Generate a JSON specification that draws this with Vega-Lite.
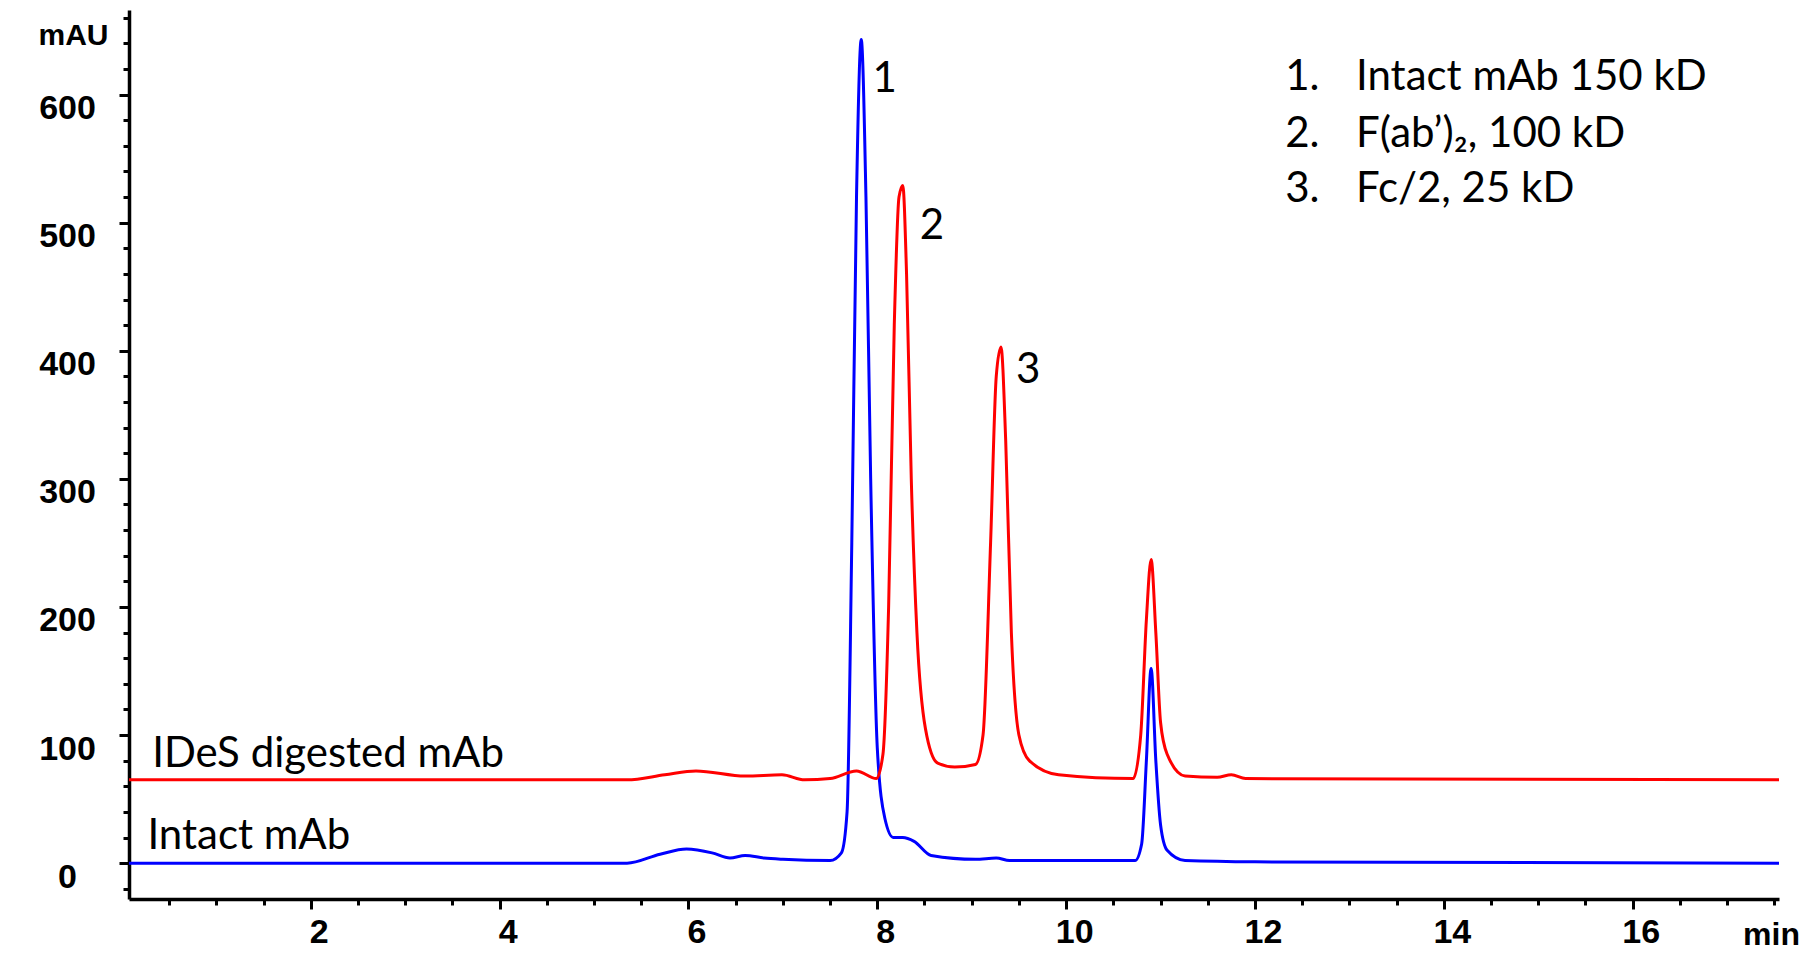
{
"$schema":"https://vega.github.io/schema/vega-lite/v6.json",
"width":1650,"height":889,"autosize":{"type":"none"},
"padding":{"left":129,"top":10,"right":25,"bottom":58},
"background":"white",
"config":{"view":{"stroke":null},"axis":{"grid":false,"domainColor":"black","tickColor":"black","labelColor":"black","labelFont":"Liberation Sans","labelFontWeight":"bold","labelFontSize":34,"domainWidth":3.5,"tickWidth":3}},
"resolve":{"axis":{"x":"independent","y":"independent"}},
"datasets":{
"lines":[
{"s":"Intact","t":0.075,"v":0},{"s":"Intact","t":5.35,"v":0},{"s":"Intact","t":5.7,"v":7},{"s":"Intact","t":5.98,"v":11},{"s":"Intact","t":6.25,"v":8},{"s":"Intact","t":6.44,"v":4},{"s":"Intact","t":6.6,"v":6},{"s":"Intact","t":6.8,"v":4},{"s":"Intact","t":7.0,"v":3},{"s":"Intact","t":7.5,"v":2},{"s":"Intact","t":7.62,"v":8},{"s":"Intact","t":7.68,"v":40},{"s":"Intact","t":7.73,"v":250},{"s":"Intact","t":7.78,"v":520},{"s":"Intact","t":7.83,"v":643},{"s":"Intact","t":7.88,"v":520},{"s":"Intact","t":7.93,"v":300},{"s":"Intact","t":8.0,"v":90},{"s":"Intact","t":8.08,"v":35},{"s":"Intact","t":8.17,"v":20},{"s":"Intact","t":8.27,"v":20},{"s":"Intact","t":8.39,"v":17},{"s":"Intact","t":8.57,"v":6},{"s":"Intact","t":9.04,"v":3},{"s":"Intact","t":9.26,"v":4},{"s":"Intact","t":9.4,"v":2},{"s":"Intact","t":10.73,"v":2},{"s":"Intact","t":10.8,"v":15},{"s":"Intact","t":10.85,"v":80},{"s":"Intact","t":10.9,"v":152},{"s":"Intact","t":10.95,"v":80},{"s":"Intact","t":11.0,"v":30},{"s":"Intact","t":11.07,"v":10},{"s":"Intact","t":11.26,"v":2},{"s":"Intact","t":12.0,"v":1},{"s":"Intact","t":17.55,"v":0},
{"s":"IDeS","t":0.075,"v":65},{"s":"IDeS","t":5.35,"v":65},{"s":"IDeS","t":5.75,"v":69},{"s":"IDeS","t":6.08,"v":72},{"s":"IDeS","t":6.6,"v":68},{"s":"IDeS","t":6.99,"v":69},{"s":"IDeS","t":7.23,"v":65},{"s":"IDeS","t":7.5,"v":66},{"s":"IDeS","t":7.78,"v":72},{"s":"IDeS","t":7.99,"v":66},{"s":"IDeS","t":8.06,"v":85},{"s":"IDeS","t":8.12,"v":200},{"s":"IDeS","t":8.18,"v":420},{"s":"IDeS","t":8.23,"v":520},{"s":"IDeS","t":8.27,"v":529},{"s":"IDeS","t":8.31,"v":460},{"s":"IDeS","t":8.36,"v":300},{"s":"IDeS","t":8.42,"v":180},{"s":"IDeS","t":8.51,"v":105},{"s":"IDeS","t":8.64,"v":78},{"s":"IDeS","t":8.82,"v":75},{"s":"IDeS","t":9.04,"v":77},{"s":"IDeS","t":9.12,"v":100},{"s":"IDeS","t":9.2,"v":250},{"s":"IDeS","t":9.26,"v":380},{"s":"IDeS","t":9.31,"v":403},{"s":"IDeS","t":9.36,"v":330},{"s":"IDeS","t":9.42,"v":180},{"s":"IDeS","t":9.5,"v":100},{"s":"IDeS","t":9.61,"v":80},{"s":"IDeS","t":9.92,"v":69},{"s":"IDeS","t":10.71,"v":66},{"s":"IDeS","t":10.79,"v":100},{"s":"IDeS","t":10.85,"v":190},{"s":"IDeS","t":10.9,"v":237},{"s":"IDeS","t":10.95,"v":180},{"s":"IDeS","t":11.0,"v":110},{"s":"IDeS","t":11.07,"v":85},{"s":"IDeS","t":11.26,"v":68},{"s":"IDeS","t":11.6,"v":67},{"s":"IDeS","t":11.75,"v":69},{"s":"IDeS","t":11.9,"v":66},{"s":"IDeS","t":17.55,"v":65}
],
"labels":[
{"t":7.95,"v":612,"txt":"1"},{"t":8.45,"v":497,"txt":"2"},{"t":9.47,"v":385,"txt":"3"},
{"t":12.32,"v":614,"txt":"1."},{"t":12.32,"v":569,"txt":"2."},{"t":12.32,"v":526,"txt":"3."},
{"t":13.07,"v":614,"txt":"Intact mAb 150 kD"},{"t":13.07,"v":569,"txt":"F(ab’)₂, 100 kD"},{"t":13.07,"v":526,"txt":"Fc/2, 25 kD"},
{"t":0.32,"v":85,"txt":"IDeS digested mAb"},{"t":0.27,"v":21,"txt":"Intact mAb"}
]},
"layer":[
{"data":{"name":"lines"},"mark":{"type":"line","strokeWidth":3,"interpolate":"monotone"},
"encoding":{
"x":{"field":"t","type":"quantitative","scale":{"domain":[0.075,17.55],"nice":false,"zero":false},
"axis":{"orient":"bottom","values":[0.5,1,1.5,2.5,3,3.5,4.5,5,5.5,6.5,7,7.5,8.5,9,9.5,10.5,11,11.5,12.5,13,13.5,14.5,15,15.5,16.5,17,17.5],"labels":false,"tickSize":6,"title":null}},
"y":{"field":"v","type":"quantitative","scale":{"domain":[-28,666],"nice":false,"zero":false},
"axis":{"orient":"left","values":[-20,20,40,60,80,120,140,160,180,220,240,260,280,320,340,360,380,420,440,460,480,520,540,560,580,620,640,660],"labels":false,"tickSize":6,"title":null}},
"color":{"field":"s","type":"nominal","scale":{"domain":["Intact","IDeS"],"range":["#0000ff","#ff0000"]},"legend":null}}},
{"data":{"name":"lines"},"mark":{"type":"line","opacity":0},
"encoding":{
"x":{"field":"t","type":"quantitative","axis":{"orient":"bottom","values":[2,4,6,8,10,12,14,16],"tickSize":10,"labelPadding":6,"labelOffset":8,"title":"min","titleFont":"Liberation Sans","titleFontSize":32,"titleFontWeight":"bold","titleX":1642,"titleY":45,"titleAlign":"center","titleBaseline":"alphabetic","domain":false}},
"y":{"field":"v","type":"quantitative","axis":{"orient":"left","values":[0,100,200,300,400,500,600],"tickSize":10,"labelAlign":"center","labelPadding":52,"labelOffset":14,"title":"mAU","titleFont":"Liberation Sans","titleFontSize":30,"titleFontWeight":"bold","titleAngle":0,"titleX":-56,"titleY":34,"titleAlign":"center","titleBaseline":"alphabetic","domain":false}}}},
{"data":{"name":"labels"},"mark":{"type":"text","align":"left","baseline":"middle","font":"Lato","fontSize":42,"color":"black"},
"encoding":{"x":{"field":"t","type":"quantitative","axis":null},"y":{"field":"v","type":"quantitative","axis":null},"text":{"field":"txt"}}}
]}
